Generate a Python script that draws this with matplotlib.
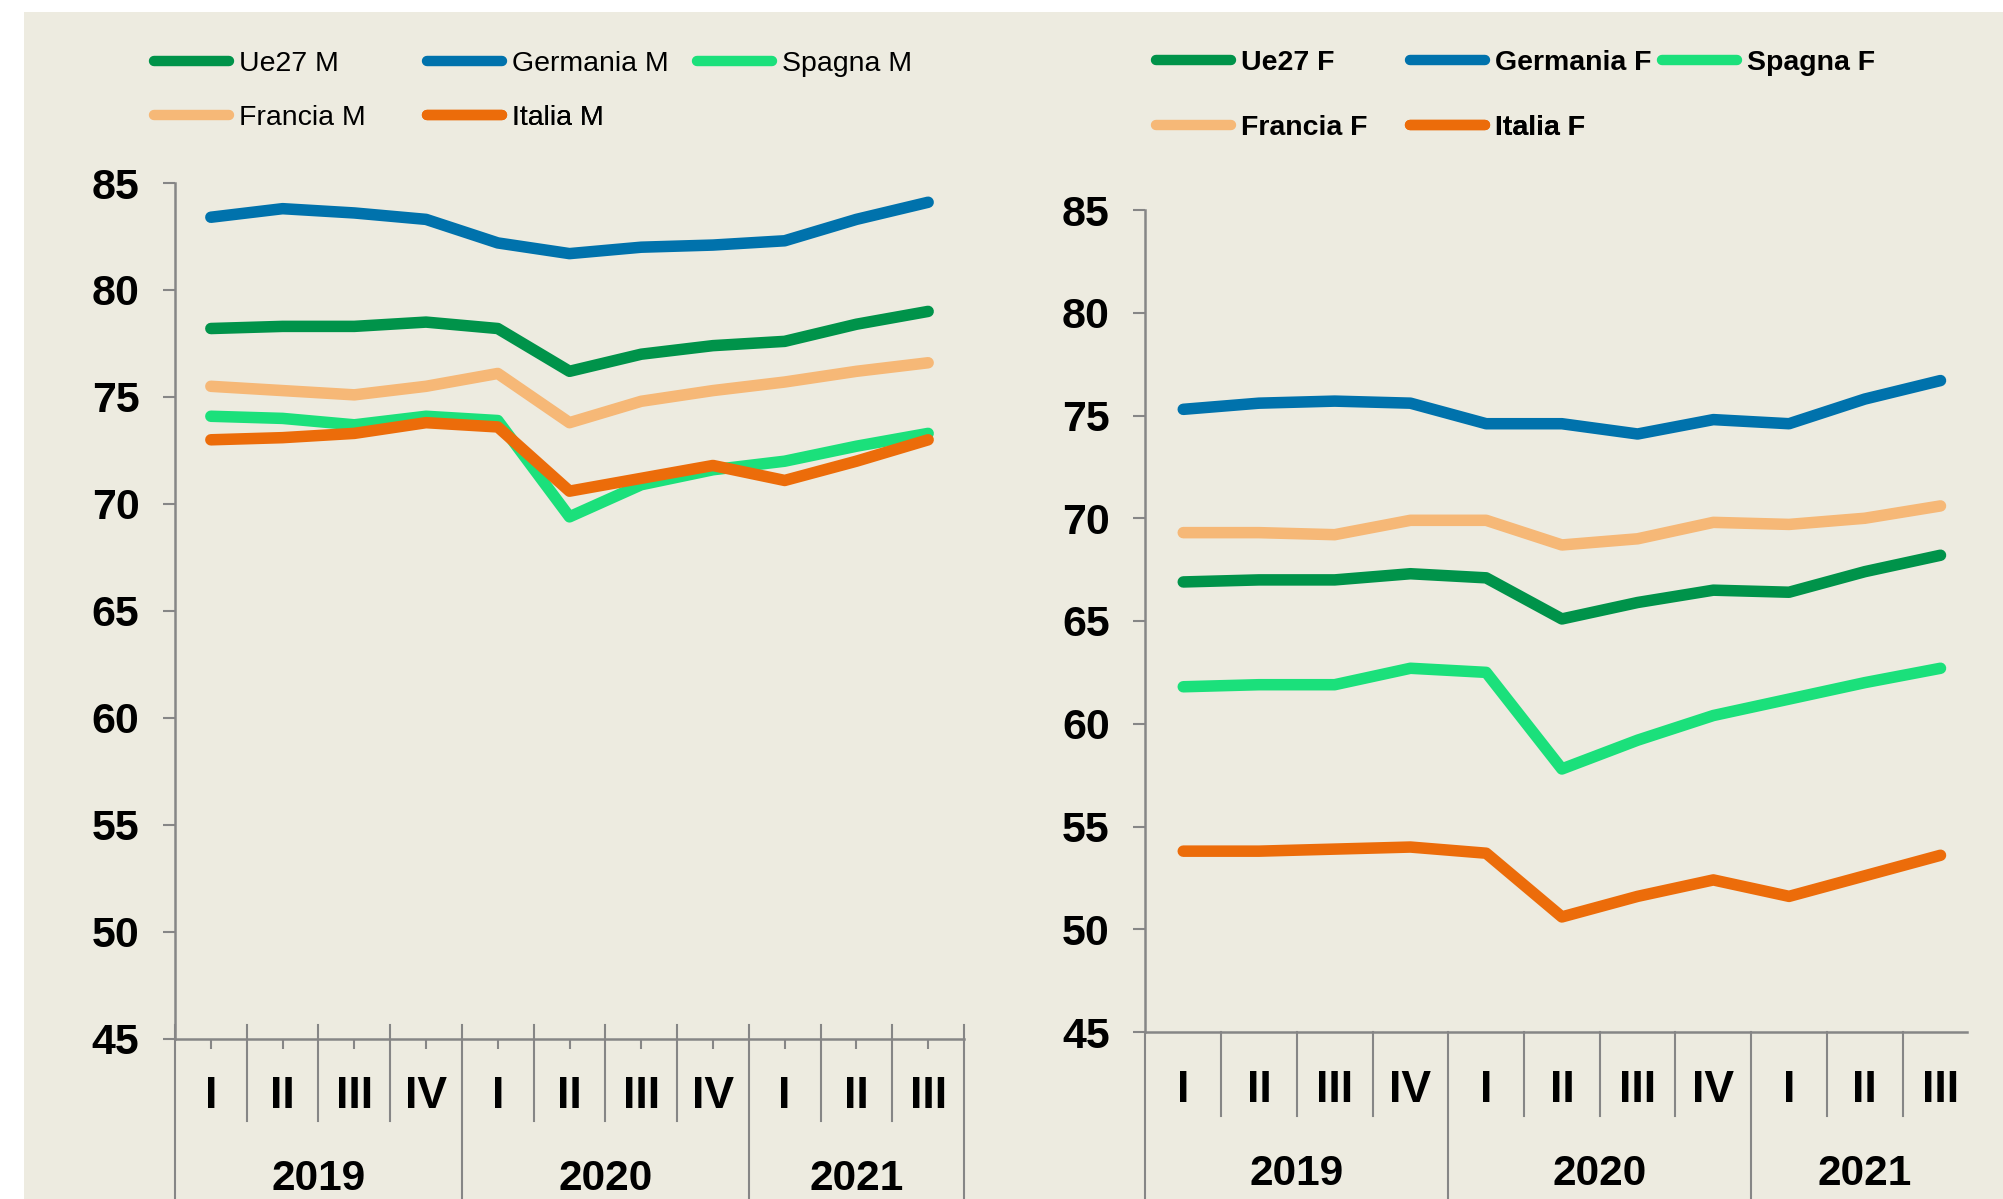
"""Tasso di occupazione per sesso, trimestri 2019-2021: Ue27 e principali paesi."""

import matplotlib
matplotlib.use("Agg")
import matplotlib.pyplot as plt
import matplotlib.transforms as mtransforms
from matplotlib.patches import Rectangle

plt.rcParams["font.family"] = ["Liberation Sans", "DejaVu Sans"]

W, H = 2003, 1199

# --- data -------------------------------------------------------------------
quarters = ["I", "II", "III", "IV", "I", "II", "III", "IV", "I", "II", "III"]
years = ["2019", "2020", "2021"]
year_centers = [1.5, 5.5, 9.0]
year_bounds = [-0.5, 3.5, 7.5, 10.5]

ue27_m = [78.2, 78.3, 78.3, 78.5, 78.2, 76.2, 77.0, 77.4, 77.6, 78.4, 79.0]
germania_m = [83.4, 83.8, 83.6, 83.3, 82.2, 81.7, 82.0, 82.1, 82.3, 83.3, 84.1]
spagna_m = [74.1, 74.0, 73.7, 74.1, 73.9, 69.4, 70.9, 71.6, 72.0, 72.7, 73.3]
francia_m = [75.5, 75.3, 75.1, 75.5, 76.1, 73.8, 74.8, 75.3, 75.7, 76.2, 76.6]
italia_m = [73.0, 73.1, 73.3, 73.8, 73.6, 70.6, 71.2, 71.8, 71.1, 72.0, 73.0]

ue27_f = [66.9, 67.0, 67.0, 67.3, 67.1, 65.1, 65.9, 66.5, 66.4, 67.4, 68.2]
germania_f = [75.3, 75.6, 75.7, 75.6, 74.6, 74.6, 74.1, 74.8, 74.6, 75.8, 76.7]
spagna_f = [61.8, 61.9, 61.9, 62.7, 62.5, 57.8, 59.2, 60.4, 61.2, 62.0, 62.7]
francia_f = [69.3, 69.3, 69.2, 69.9, 69.9, 68.7, 69.0, 69.8, 69.7, 70.0, 70.6]
italia_f = [53.8, 53.8, 53.9, 54.0, 53.7, 50.6, 51.6, 52.4, 51.6, 52.6, 53.6]

labels_m = ["Ue27 M", "Germania M", "Spagna M", "Francia M", "Italia M"]
labels_f = ["Ue27 F", "Germania F", "Spagna F", "Francia F", "Italia F"]

# --- style ------------------------------------------------------------------
COLORS = ["#00934A", "#0072AC", "#1BE07B", "#F6B877", "#EC6C0A"]
BEIGE = "#EDEBE0"
GRAY = "#868686"


def fx(px):
    return px / W


def fy(py):
    return 1 - py / H


def draw_panel(fig, box, series, labels, cfg):
    """box = (left, top, right, bottom) in pixels of the plotting area."""
    left, top, right, bottom = box
    ax = fig.add_axes([fx(left), fy(bottom), (right - left) / W, (bottom - top) / H])
    ax.set_facecolor("none")

    x = list(range(len(quarters)))
    lines = []
    for values, color in zip(series, COLORS):
        (ln,) = ax.plot(x, values, color=color, linewidth=8.3, solid_capstyle="round",
                        solid_joinstyle="round", clip_on=False, zorder=3)
        lines.append(ln)

    ax.set_xlim(-0.5, cfg["xmax"])
    ax.set_ylim(45, 85)
    for side in ("top", "right"):
        ax.spines[side].set_visible(False)
    for side in ("left", "bottom"):
        ax.spines[side].set_color(GRAY)
        ax.spines[side].set_linewidth(1.8)

    ax.set_yticks(range(45, 86, 5))
    ax.tick_params(axis="y", direction="out", length=8.6, width=1.5, color=GRAY, pad=17,
                   labelsize=31)
    for t in ax.get_yticklabels():
        t.set_fontweight("bold")

    ax.set_xticks(x)
    ax.set_xticklabels([])
    ax.tick_params(axis="x", direction="out", length=cfg["center_tick"], width=1.5, color=GRAY)

    trans = mtransforms.blended_transform_factory(ax.transData, ax.transAxes)
    axis_h = bottom - top

    def frac(py):
        return (bottom - py) / axis_h

    # category separators below the axis
    for b in [i - 0.5 for i in range(len(quarters) + 1)]:
        if b > cfg["xmax"]:
            continue
        lower = frac(H + 10) if b in year_bounds else frac(cfg["q_sep_bottom"])
        ax.plot([b, b], [frac(bottom - cfg["up_tick"]), lower], transform=trans,
                color=GRAY, linewidth=1.5, clip_on=False, zorder=2)

    for i, q in enumerate(quarters):
        ax.text(i, frac(cfg["q_y"]), q, transform=trans, ha="center", va="center",
                fontsize=32, fontweight="bold")
    for xc, yr in zip(year_centers, years):
        ax.text(xc, frac(cfg["yr_y"]), yr, transform=trans, ha="center", va="center",
                fontsize=30.5, fontweight="bold")

    # legend, one entry per slot, Excel-like fixed columns
    cols = cfg["leg_cols"]
    rows = cfg["leg_rows"]
    slots = [(cols[0], rows[0]), (cols[1], rows[0]), (cols[2], rows[0]),
             (cols[0], rows[1]), (cols[1], rows[1])]
    for ln, lab, (lx, ly) in zip(lines, labels, slots):
        leg = ax.legend(handles=[ln], labels=[lab], loc="center left",
                        bbox_to_anchor=(fx(lx), fy(ly)), bbox_transform=fig.transFigure,
                        frameon=False, borderpad=0, borderaxespad=0, handlelength=2.63,
                        handletextpad=0.35, prop={"size": 20.5, "weight": cfg["leg_weight"]})
        leg.get_lines()[0].set_linewidth(7.5)
        ax.add_artist(leg)
    return ax


fig = plt.figure(figsize=(W / 100, H / 100), dpi=100, facecolor="white")
fig.patches.append(Rectangle((fx(24), 0), 1, fy(12), transform=fig.transFigure,
                             facecolor=BEIGE, edgecolor="none", zorder=-10))

draw_panel(
    fig, (175, 183, 964, 1039),
    [ue27_m, germania_m, spagna_m, francia_m, italia_m], labels_m,
    dict(xmax=10.5, center_tick=7, up_tick=14, q_sep_bottom=1121, q_y=1097, yr_y=1179,
         leg_cols=[154, 427, 697], leg_rows=[64, 118], leg_weight="normal"),
)
draw_panel(
    fig, (1145.4, 210, 1967, 1032),
    [ue27_f, germania_f, spagna_f, francia_f, italia_f], labels_f,
    dict(xmax=10.35, center_tick=0, up_tick=0, q_sep_bottom=1116, q_y=1090, yr_y=1174,
         leg_cols=[1156, 1410, 1662], leg_rows=[63, 128], leg_weight="bold"),
)

fig.savefig("out.png", dpi=100, facecolor=fig.get_facecolor())
